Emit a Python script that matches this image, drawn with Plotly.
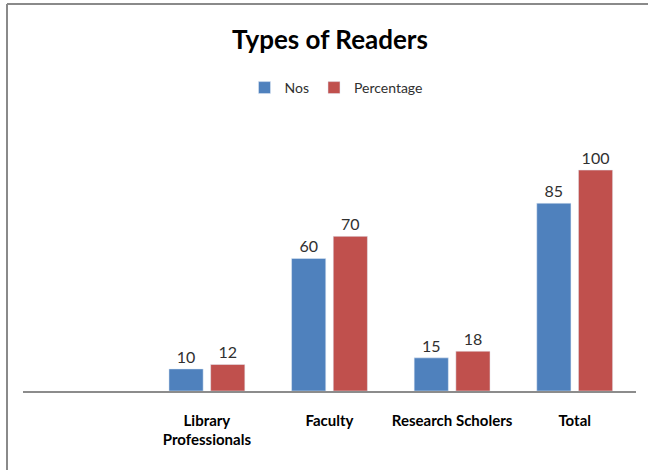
import plotly.graph_objects as go

categories = [" ", "Library<br>Professionals", "Faculty", "Research Scholers", "Total"]
nos = [None, 10, 60, 15, 85]
percentage = [None, 12, 70, 18, 100]

W, H = 648, 470
L, R, T, B = 23, 12, 125, 79
pw, ph = W - L - R, H - T - B

FONT = "Lato, sans-serif"

def px_x(x):
    return (x - L) / pw

def px_y(y):
    return (H - B - y) / ph

fig = go.Figure()
fig.add_trace(go.Bar(
    x=categories, y=nos, name="Nos", marker_color="#4F81BD",
    text=[("" if v is None else str(v)) for v in nos], textposition="outside",
    textfont=dict(family=FONT, size=16, color="#303030"), cliponaxis=False,
))
fig.add_trace(go.Bar(
    x=categories, y=percentage, name="Percentage", marker_color="#C0504D",
    text=[("" if v is None else str(v)) for v in percentage], textposition="outside",
    textfont=dict(family=FONT, size=16, color="#303030"), cliponaxis=False,
))

fig.update_layout(
    width=W, height=H,
    margin=dict(l=L, r=R, t=T, b=B),
    paper_bgcolor="white", plot_bgcolor="white",
    barmode="group", bargap=0.32, bargroupgap=0.18,
    title=dict(text="<b>Types of Readers</b>", x=px_x(330) * pw / W + L / W, xanchor="center",
               y=1 - 40 / H, yanchor="middle",
               font=dict(family=FONT, size=26, color="#000000")),
    legend=dict(orientation="h", x=px_x(336), xanchor="center", y=px_y(88), yanchor="middle",
                font=dict(family=FONT, size=14, color="#303030"),
                itemwidth=30, traceorder="normal"),
    showlegend=True,
    xaxis=dict(showline=True, linecolor="#8c8c8c", linewidth=1.5, ticks="",
               showgrid=False, zeroline=False, ticklabelstandoff=15),
    yaxis=dict(range=[0, 120.4], visible=False, showgrid=False, zeroline=False),
    shapes=[
        dict(type="line", xref="paper", yref="paper",
             x0=px_x(7), x1=px_x(7), y0=px_y(470), y1=px_y(4),
             line=dict(color="#8a8a8a", width=2)),
        dict(type="line", xref="paper", yref="paper",
             x0=px_x(7), x1=px_x(648), y0=px_y(4), y1=px_y(4),
             line=dict(color="#8a8a8a", width=2)),
    ],
)
fig.update_xaxes(tickfont=dict(family=FONT, size=15, color="#000000", weight="bold"))

fig.write_html("out.html", config={"displayModeBar": False},
               post_script="document.body.style.margin='0';")
